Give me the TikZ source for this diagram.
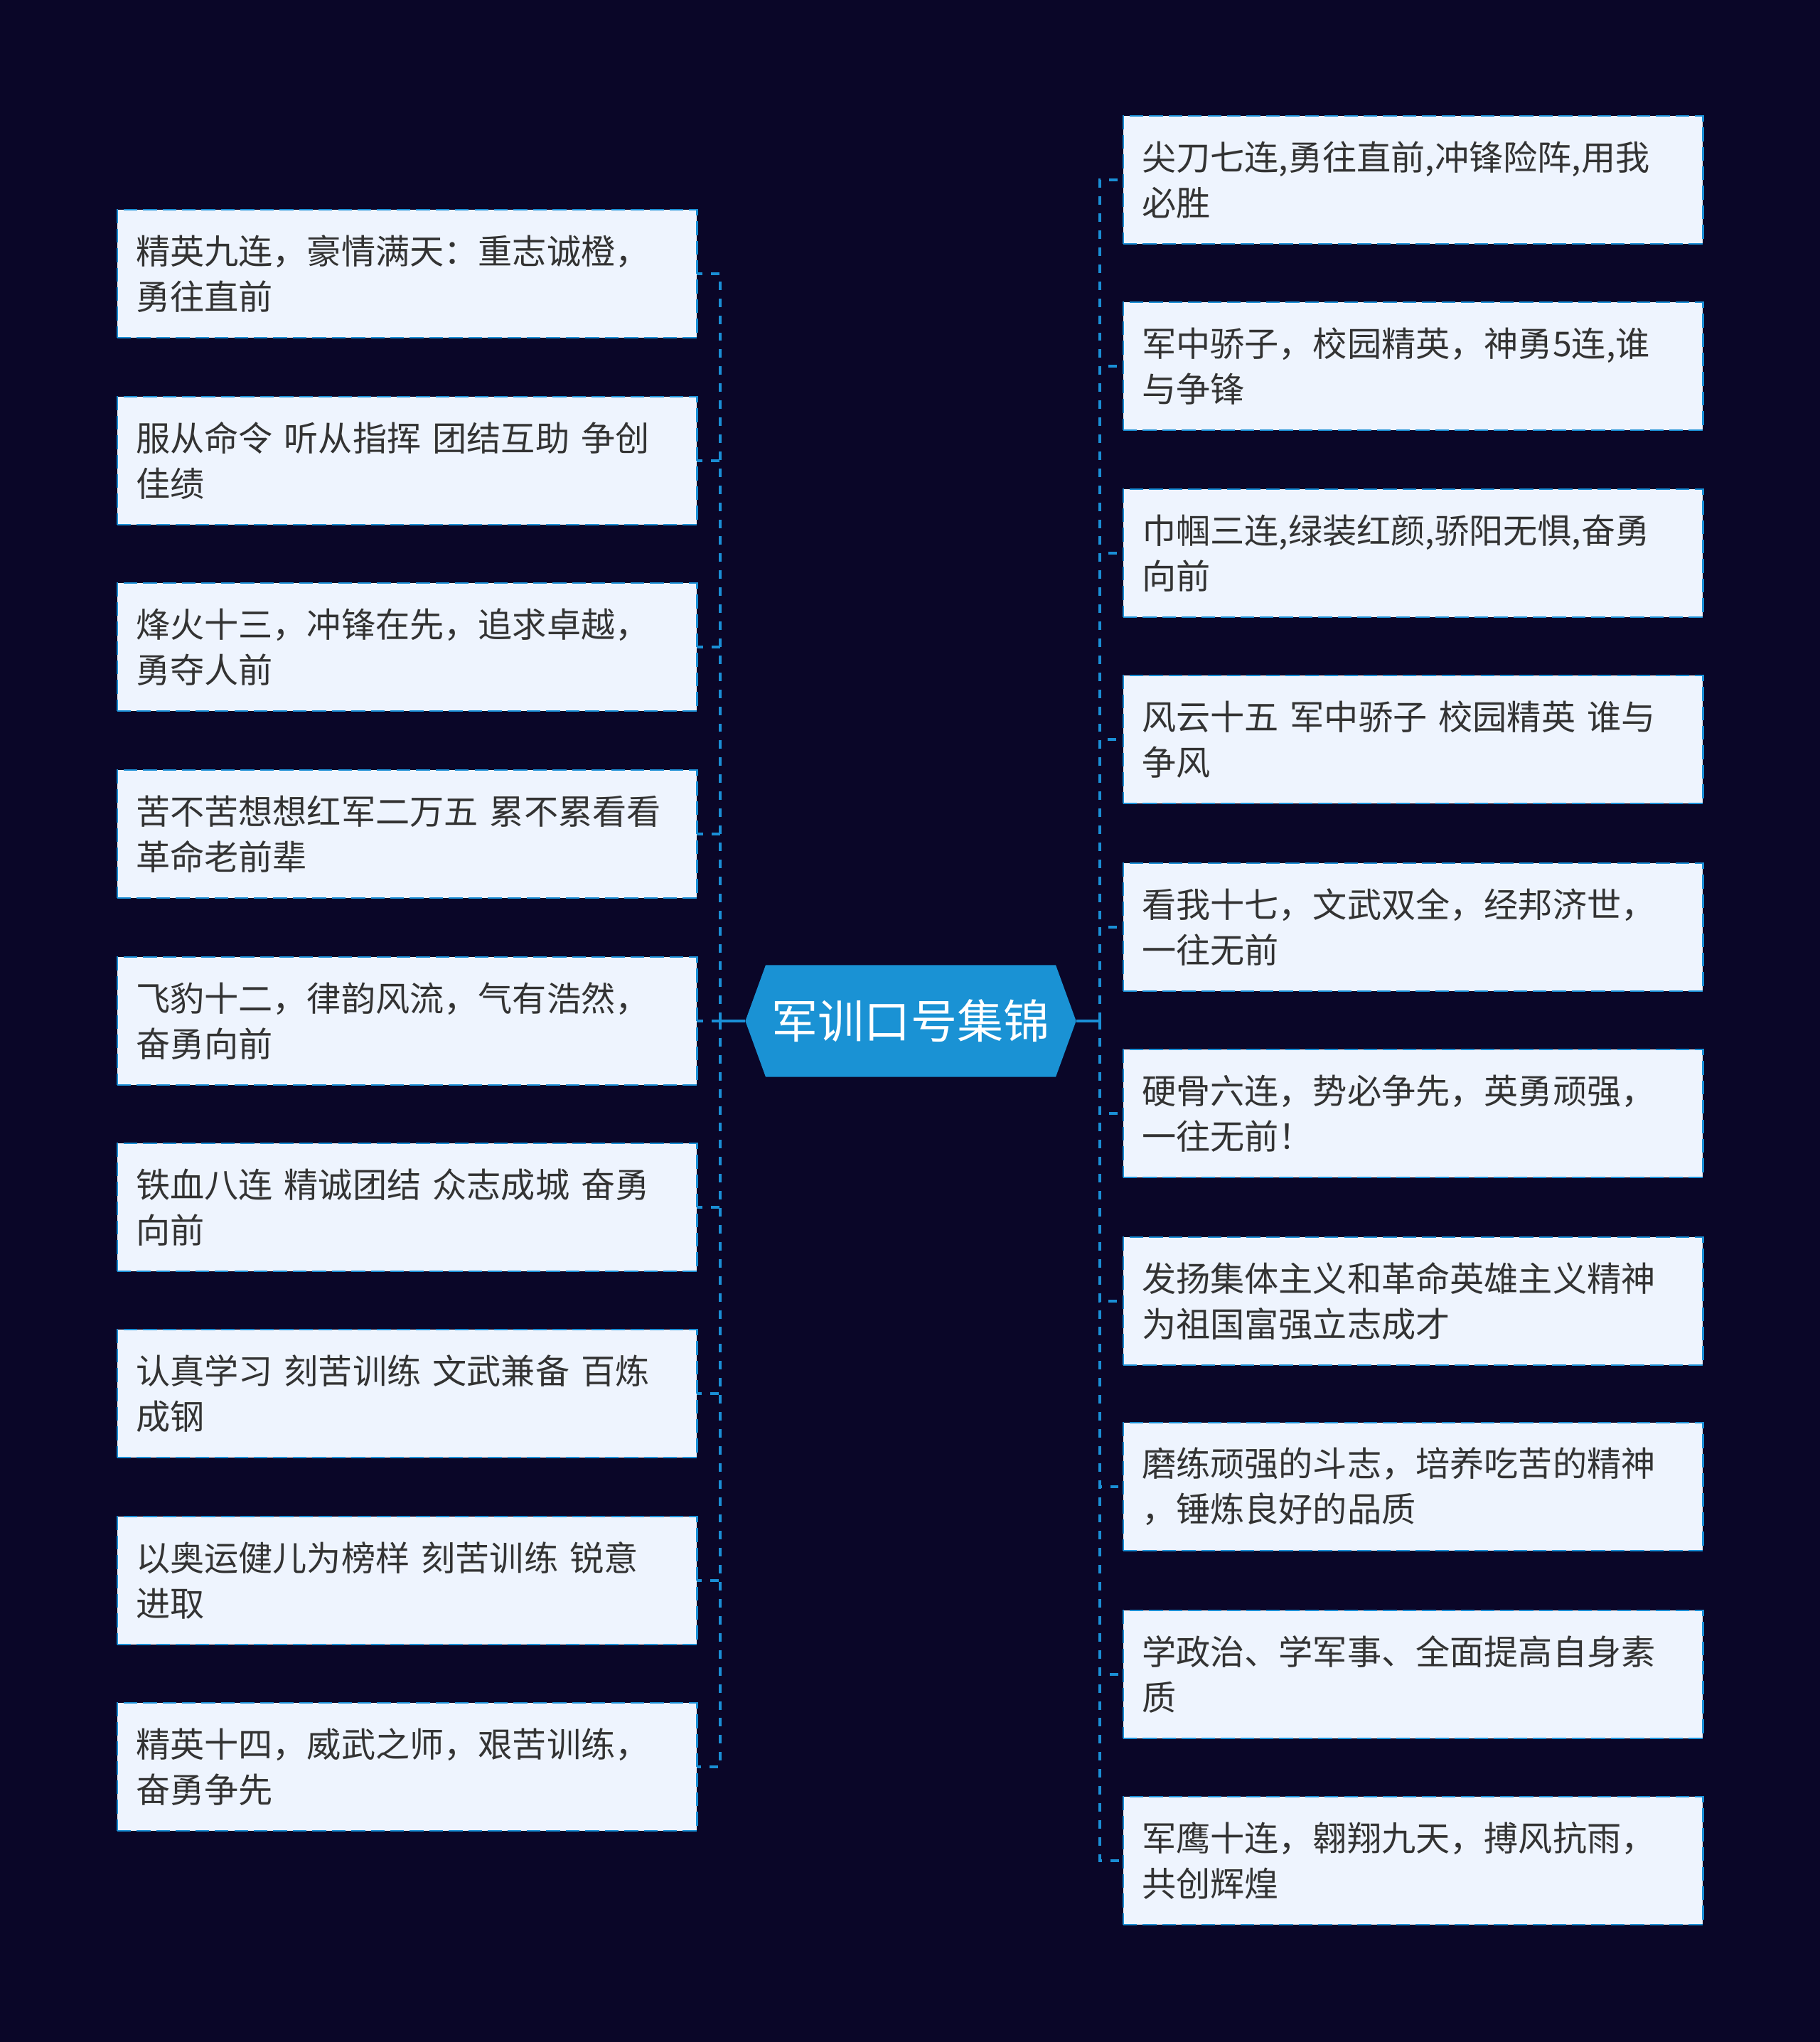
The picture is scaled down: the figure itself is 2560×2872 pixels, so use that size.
\documentclass[tikz,border=0pt]{standalone}
\usepackage{fontspec}
\setmainfont{Noto Sans CJK SC}
\usetikzlibrary{shapes.symbols}
\definecolor{bgc}{HTML}{0A0628}
\definecolor{linec}{HTML}{1A8FD6}
\definecolor{boxfill}{HTML}{EEF4FE}
\definecolor{txt}{HTML}{333333}
\definecolor{cfill}{HTML}{1A92D4}
\begin{document}
\begin{tikzpicture}[x=0.01cm,y=-0.01cm,
  leaf/.style={draw=linec, line width=0.7pt, dash pattern=on 5.5pt off 2.3pt, fill=boxfill,
    text=txt, anchor=north west, minimum width=8.15cm, minimum height=1.8cm,
    text width=7.63cm, inner xsep=0.26cm, inner ysep=0pt, outer sep=0pt, align=left,
    font=\fontsize{13.7pt}{18.2pt}\selectfont},
  conn/.style={draw=linec, line width=1.1pt, dash pattern=on 3.4pt off 3.4pt},
  mainln/.style={draw=linec, line width=1.3pt},
  rootnode/.style={signal, signal to=west and east, signal pointer angle=140, fill=cfill,
    text=white, minimum width=4.65cm, minimum height=1.57cm, inner sep=0pt, outer sep=0pt,
    font=\fontsize{18.5pt}{22pt}\selectfont}]
\fill[bgc] (0,0) rectangle (2560,2872);
\useasboundingbox (0,0) rectangle (2560,2872);

\node[rootnode] (C) at (1281,1436) {军训口号集锦};
\coordinate (LS) at (1013,1436);
\coordinate (RS) at (1547,1436);

% left boxes
\node[leaf] (L1) at (165,295) {精英九连，豪情满天：重志诚橙，\\勇往直前};
\node[leaf] (L2) at (165,558) {服从命令 听从指挥 团结互助 争创\\佳绩};
\node[leaf] (L3) at (165,820) {烽火十三，冲锋在先，追求卓越，\\勇夺人前};
\node[leaf] (L4) at (165,1083) {苦不苦想想红军二万五~累不累看看\\革命老前辈};
\node[leaf] (L5) at (165,1346) {飞豹十二，律韵风流，气有浩然，\\奋勇向前};
\node[leaf] (L6) at (165,1608) {铁血八连 精诚团结 众志成城 奋勇\\向前};
\node[leaf] (L7) at (165,1870) {认真学习 刻苦训练 文武兼备 百炼\\成钢};
\node[leaf] (L8) at (165,2133) {以奥运健儿为榜样 刻苦训练 锐意\\进取};
\node[leaf] (L9) at (165,2395) {精英十四，威武之师，艰苦训练，\\奋勇争先};

% right boxes
\node[leaf] (R1) at (1580,163) {尖刀七连,勇往直前,冲锋险阵,用我\\必胜};
\node[leaf] (R2) at (1580,425) {军中骄子，校园精英，神勇5连,谁\\与争锋};
\node[leaf] (R3) at (1580,688) {巾帼三连,绿装红颜,骄阳无惧,奋勇\\向前};
\node[leaf] (R4) at (1580,950) {风云十五 军中骄子 校园精英 谁与\\争风};
\node[leaf] (R5) at (1580,1214) {看我十七，文武双全，经邦济世，\\一往无前};
\node[leaf] (R6) at (1580,1476) {硬骨六连，势必争先，英勇顽强，\\一往无前！};
\node[leaf] (R7) at (1580,1740) {发扬集体主义和革命英雄主义精神\\为祖国富强立志成才};
\node[leaf] (R8) at (1580,2001) {磨练顽强的斗志，培养吃苦的精神\\，锤炼良好的品质};
\node[leaf] (R9) at (1580,2265) {学政治、学军事、全面提高自身素\\质};
\node[leaf] (R10) at (1580,2527) {军鹰十连，翱翔九天，搏风抗雨，\\共创辉煌};

\draw[mainln] (C.west) -- (LS);
\draw[mainln] (C.east) -- (RS);
\foreach \n in {L1,L2,L3,L4,L5,L6,L7,L8,L9}{
  \draw[conn] (LS) |- (\n.east);
}
\foreach \n in {R1,R2,R3,R4,R5,R6,R7,R8,R9,R10}{
  \draw[conn] (RS) |- (\n.west);
}
\end{tikzpicture}
\end{document}
